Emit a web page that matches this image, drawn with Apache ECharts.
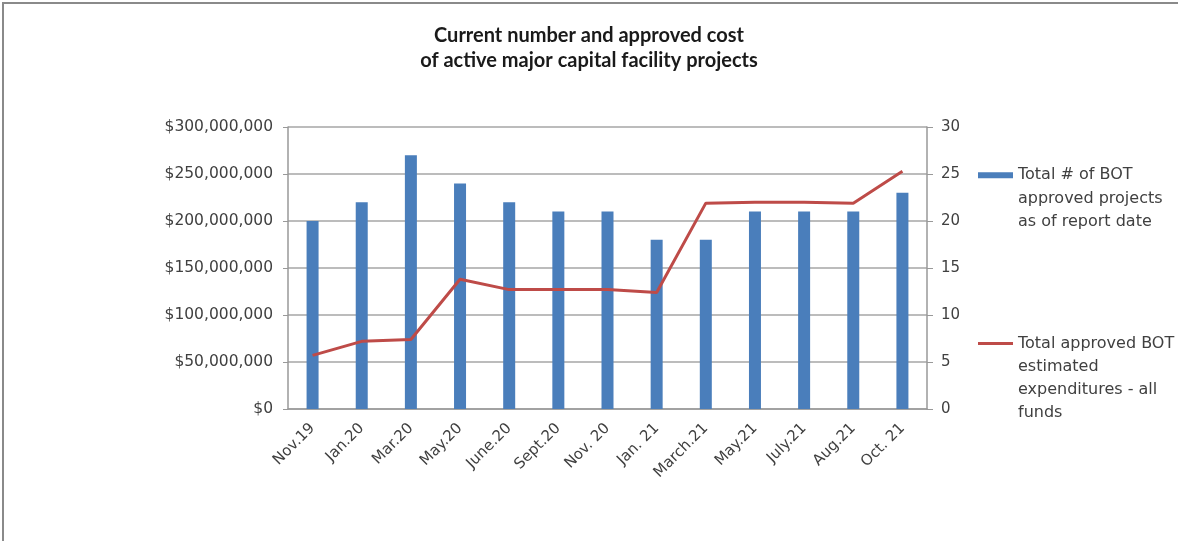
<!DOCTYPE html>
<html><head><meta charset="utf-8">
<script src="https://cdn.jsdelivr.net/npm/echarts@6/dist/echarts.min.js"></script>
<style>
html,body{margin:0;padding:0;background:#fff;}
#frame{position:absolute;left:2px;top:2px;width:1200px;height:560px;border-top:2px solid #8a8a8a;border-left:2px solid #8a8a8a;box-sizing:border-box;}
#c{position:absolute;left:0;top:0;width:1178px;height:541px;}
</style></head>
<body><div id="frame"></div><div id="c"></div>
<script>
const categories = ['Nov.19','Jan.20','Mar.20','May.20','June.20','Sept.20','Nov. 20','Jan. 21','March.21','May.21','July.21','Aug.21','Oct. 21'];
const projectCounts = [20, 22, 27, 24, 22, 21, 21, 18, 18, 21, 21, 21, 23];
const approvedCost = [57000000, 72000000, 74000000, 138000000, 127000000, 127000000, 127000000, 124000000, 219000000, 220000000, 220000000, 219000000, 253000000];
const barName = 'Total # of BOT\napproved projects\nas of report date';
const lineName = 'Total approved BOT\nestimated\nexpenditures - all\nfunds';

const labFont = '"DejaVu Sans", sans-serif';
const txtColor = '#404040';
// prepend blank lines so the legend's first text line sits level with its icon
const topAlign = name => '\n'.repeat(name.split('\n').length - 1) + name;

const chart = echarts.init(document.getElementById('c'));
chart.setOption({
  animation: false,
  textStyle: {fontFamily: labFont},
  title: {
    text: 'Current number and approved cost\nof active major capital facility projects',
    left: 'center', top: 18,
    textStyle: {fontSize: 20, fontWeight: 'bold', color: '#1a1a1a', lineHeight: 25, fontFamily: 'Lato, sans-serif'}
  },
  legend: [
    {data: [{name: barName, icon: 'rect'}], left: 973, top: 111.5, orient: 'vertical', itemWidth: 35, itemHeight: 6, itemGap: 0,
     formatter: topAlign,
     textStyle: {fontSize: 16, color: txtColor, lineHeight: 23.5, fontFamily: labFont}},
    {data: [{name: lineName, icon: 'rect'}], left: 973, top: 258, orient: 'vertical', itemWidth: 35, itemHeight: 3, itemGap: 0,
     formatter: topAlign,
     textStyle: {fontSize: 16, color: txtColor, lineHeight: 23, fontFamily: labFont}}
  ],
  grid: {left: 288, right: 251, top: 127, bottom: 132, containLabel: false},
  xAxis: {
    type: 'category', data: categories,
    axisLine: {lineStyle: {color: '#999', width: 1.5}},
    axisTick: {show: false},
    axisLabel: {rotate: 45, fontSize: 15, color: txtColor, margin: 17, interval: 0, fontFamily: labFont}
  },
  yAxis: [
    {type: 'value', min: 0, max: 300000000, interval: 50000000, position: 'left',
     axisLine: {show: true, lineStyle: {color: '#999', width: 1.5}},
     axisTick: {show: true, length: 5, lineStyle: {color: '#999'}},
     splitLine: {lineStyle: {color: '#a6a6a6', width: 1.5}},
     axisLabel: {fontSize: 15.5, color: txtColor, margin: 15, fontFamily: labFont,
       formatter: v => '$' + v.toLocaleString('en-US')}},
    {type: 'value', min: 0, max: 30, interval: 5, position: 'right',
     axisLine: {show: true, lineStyle: {color: '#999', width: 1.5}},
     axisTick: {show: true, length: 6, lineStyle: {color: '#999'}},
     splitLine: {show: false},
     axisLabel: {fontSize: 15, color: txtColor, margin: 14, fontFamily: labFont}}
  ],
  series: [
    {name: barName, type: 'bar', yAxisIndex: 1, data: projectCounts, barWidth: 12,
     itemStyle: {color: '#4a7ebb'}},
    {name: lineName, type: 'line', yAxisIndex: 0, data: approvedCost, symbol: 'none',
     lineStyle: {color: '#be4b48', width: 3}, itemStyle: {color: '#be4b48'}}
  ]
});
</script></body></html>
